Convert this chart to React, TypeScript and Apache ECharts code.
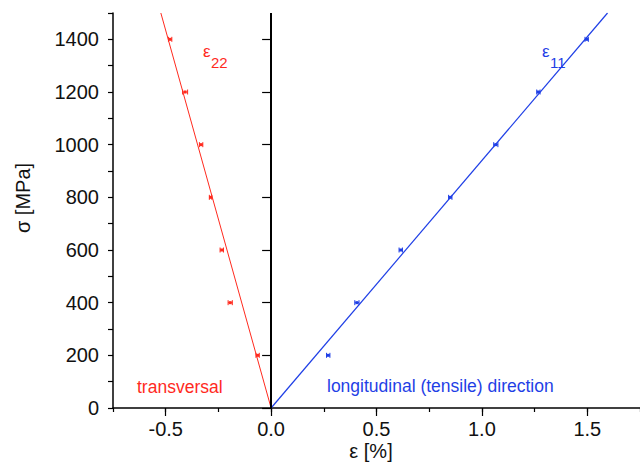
import React, { useEffect, useRef } from "react";
import * as echarts from "echarts";

const stressLevels = [200, 400, 600, 800, 1000, 1200, 1400];
const strainLongitudinal = [0.271, 0.407, 0.615, 0.85, 1.066, 1.268, 1.497];
const errLongitudinal = [0.008, 0.01, 0.008, 0.008, 0.01, 0.008, 0.008];
const strainTransversal = [-0.064, -0.194, -0.234, -0.287, -0.332, -0.408, -0.479];
const errTransversal = [0.008, 0.01, 0.008, 0.006, 0.008, 0.012, 0.008];
const fitLongitudinal = [[0, 0], [1.596, 1500]];
const fitTransversal = [[0, 0], [-0.523, 1500]];
const xMajorTicks = [-0.5, 0, 0.5, 1.0, 1.5];
const yMajorTicks = [0, 200, 400, 600, 800, 1000, 1200, 1400];

const RED = "#ff2a1e";
const BLUE = "#1f3fe6";
const FONT = "'Liberation Sans', Arial, sans-serif";

function errorSeries(xs: number[], errs: number[], color: string) {
  return {
    type: "custom",
    xAxisIndex: 0,
    yAxisIndex: 0,
    encode: { x: 0, y: 1 },
    data: xs.map((x, i) => [x, stressLevels[i], errs[i]]),
    z: 5,
    renderItem: (params: any, api: any) => {
      const x = api.value(0);
      const y = api.value(1);
      const e = api.value(2);
      const c = api.coord([x, y]);
      const l = api.coord([x - e, y]);
      const r = api.coord([x + e, y]);
      const st = { stroke: color, lineWidth: 1 };
      return {
        type: "group",
        children: [
          { type: "line", shape: { x1: l[0], y1: c[1], x2: r[0], y2: c[1] }, style: st },
          { type: "line", shape: { x1: l[0], y1: c[1] - 2.5, x2: l[0], y2: c[1] + 2.5 }, style: st },
          { type: "line", shape: { x1: r[0], y1: c[1] - 2.5, x2: r[0], y2: c[1] + 2.5 }, style: st },
          { type: "rect", shape: { x: c[0] - 1.5, y: c[1] - 1.5, width: 3, height: 3 }, style: { fill: color } },
        ],
      };
    },
  };
}

export default function App() {
  const ref = useRef<HTMLDivElement>(null);
  useEffect(() => {
    const chart = echarts.init(ref.current!, null, { renderer: "svg" });
    const axisLabelStyle = { color: "#111", fontSize: 20, fontFamily: FONT };
    chart.setOption({
      animation: false,
      backgroundColor: "#fff",
      grid: { left: 113, right: -9, top: 13, bottom: 65, containLabel: false },
      xAxis: [
        {
          type: "value",
          min: -0.75,
          max: 1.75,
          interval: 0.25,
          axisLine: { show: true, onZero: false, lineStyle: { color: "#000", width: 1.5 } },
          axisTick: { show: true, length: 4, lineStyle: { color: "#000", width: 1.2 } },
          axisLabel: { ...axisLabelStyle, margin: 11, lineHeight: 20, customValues: xMajorTicks, formatter: (v: number) => v.toFixed(1) },
          splitLine: { show: false },
        },
        {
          type: "value",
          min: -0.75,
          max: 1.75,
          position: "bottom",
          axisLine: { show: false },
          axisTick: { show: true, length: 8, customValues: xMajorTicks, lineStyle: { color: "#000", width: 1.2 } },
          axisLabel: { show: false },
          splitLine: { show: false },
        },
      ],
      yAxis: [
        {
          type: "value",
          min: 0,
          max: 1500,
          interval: 100,
          axisLine: { show: true, onZero: false, lineStyle: { color: "#000", width: 1.5 } },
          axisTick: { show: true, length: 5, lineStyle: { color: "#000", width: 1.2 } },
          axisLabel: { ...axisLabelStyle, margin: 14, customValues: yMajorTicks, formatter: (v: number) => String(v) },
          splitLine: { show: false },
        },
        {
          type: "value",
          min: 0,
          max: 1500,
          position: "left",
          axisLine: { show: false },
          axisTick: { show: true, length: 9, customValues: yMajorTicks, lineStyle: { color: "#000", width: 1.2 } },
          axisLabel: { show: false },
          splitLine: { show: false },
        },
      ],
      series: [
        {
          type: "line",
          data: fitTransversal,
          showSymbol: false,
          lineStyle: { color: RED, width: 1 },
          z: 3,
          markLine: {
            silent: true,
            symbol: "none",
            label: { show: false },
            lineStyle: { color: "#000", width: 2, type: "solid", opacity: 1 },
            data: [{ xAxis: 0 }],
          },
        },
        {
          type: "line",
          data: fitLongitudinal,
          showSymbol: false,
          lineStyle: { color: BLUE, width: 1.2 },
          z: 3,
        },
        errorSeries(strainTransversal, errTransversal, RED),
        errorSeries(strainLongitudinal, errLongitudinal, BLUE),
      ],
      graphic: [
        { type: "text", x: 203, y: 51, style: { text: "ε", fill: RED, fontSize: 17, fontFamily: FONT, verticalAlign: "middle", align: "left" } },
        { type: "text", x: 211, y: 62, style: { text: "22", fill: RED, fontSize: 15, fontFamily: FONT, verticalAlign: "middle", align: "left" } },
        { type: "text", x: 542, y: 51, style: { text: "ε", fill: BLUE, fontSize: 17, fontFamily: FONT, verticalAlign: "middle", align: "left" } },
        { type: "text", x: 550, y: 62, style: { text: "11", fill: BLUE, fontSize: 15, fontFamily: FONT, verticalAlign: "middle", align: "left" } },
        { type: "text", x: 137, y: 387, style: { text: "transversal", fill: RED, fontSize: 17.5, fontFamily: FONT, verticalAlign: "middle", align: "left" } },
        { type: "text", x: 327, y: 386, style: { text: "longitudinal (tensile) direction", fill: BLUE, fontSize: 17.5, fontFamily: FONT, verticalAlign: "middle", align: "left" } },
        { type: "text", x: 371, y: 451, style: { text: "ε [%]", fill: "#111", fontSize: 20, fontFamily: FONT, verticalAlign: "middle", align: "center" } },
        { type: "text", x: 23, y: 198, rotation: Math.PI / 2, style: { text: "σ [MPa]", fill: "#111", fontSize: 20, fontFamily: FONT, verticalAlign: "middle", align: "center" } },
      ],
    });
    return () => chart.dispose();
  }, []);
  return <div ref={ref} style={{ position: "absolute", left: 0, top: 0, width: 640, height: 473, background: "#fff" }} />;
}
